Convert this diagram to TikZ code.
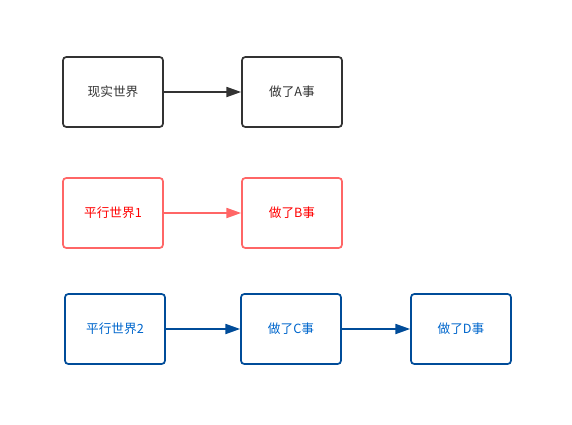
\documentclass[tikz,border=0pt]{standalone}
\usepackage{fontspec}
\setmainfont{Noto Sans CJK SC}
\usetikzlibrary{positioning, arrows.meta}

\definecolor{realline}{HTML}{333333}
\definecolor{redline}{HTML}{FF6666}
\definecolor{redtext}{HTML}{FF0000}
\definecolor{blueline}{HTML}{004C99}
\definecolor{bluetext}{HTML}{0066CC}

\tikzset{
    world/.style={draw, rounded corners=2.5pt, line width=1.3pt, minimum width=75pt, minimum height=52.5pt, font=\fontsize{9.5}{11}\selectfont},
    flow/.style={line width=1.3pt, -{Triangle[length=11pt, width=7.5pt]}}
}

\begin{document}
\begin{tikzpicture}[x=0.75pt, y=-0.75pt]
        \useasboundingbox (0,0) rectangle (572,425);

        \node[world, draw=realline, text=realline] (real) at (113,92) {现实世界};
        \node[world, draw=realline, text=realline] (A) at (292,92) {做了A事};

        \node[world, draw=redline, text=redtext] (p1) at (113,213) {平行世界1};
        \node[world, draw=redline, text=redtext] (B) at (292,213) {做了B事};

        \node[world, draw=blueline, text=bluetext] (p2) at (115,329) {平行世界2};
        \node[world, draw=blueline, text=bluetext] (C) at (291,329) {做了C事};
        \node[world, draw=blueline, text=bluetext] (D) at (461,329) {做了D事};

        \draw[flow, realline] (real) -- (A);
        \draw[flow, redline] (p1) -- (B);
        \draw[flow, blueline] (p2) -- (C);
        \draw[flow, blueline] (C) -- (D);
    \end{tikzpicture}
\end{document}
